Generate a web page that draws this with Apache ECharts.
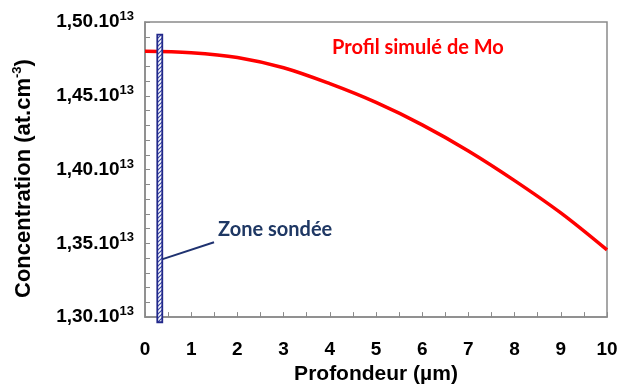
<!DOCTYPE html>
<html>
<head>
<meta charset="utf-8">
<script src="https://cdn.jsdelivr.net/npm/echarts@6/dist/echarts.min.js"></script>
<style>
  html, body { margin: 0; padding: 0; background: #fff; }
  #chart { width: 621px; height: 390px; }
</style>
</head>
<body>
<div id="chart"></div>
<script>
// Simulated Mo concentration profile (units of 1e13 at.cm-3) versus depth (µm)
const depth = [0, 1, 2, 3, 4, 5, 6, 7, 8, 9, 10];
const concentration = [1.4802, 1.4792, 1.4760, 1.4690, 1.4582, 1.4455, 1.4303, 1.4126, 1.3925, 1.3706, 1.3455];

// Probed zone: narrow band near the surface [xStart, xEnd, yBottom, yTop]
const probedZone = [0.266, 0.374, 1.2965, 1.4914];
// Leader line from the probed zone to its label
const leader = [[0.382, 1.3393], [1.494, 1.3507]];

const yTicks = [1.30, 1.35, 1.40, 1.45, 1.50];
const yTickLabels = ['1,30.10', '1,35.10', '1,40.10', '1,45.10', '1,50.10'];
const yExponent = '13';

const seriesName = 'Profil simulé de Mo';
const zoneName = 'Zone sondée';

const axisGrey = '#8a8a8a';
const navy = '#22288a';

// hatch pattern for the probed zone
function hatch() {
  const c = document.createElement('canvas');
  c.width = 4; c.height = 4;
  const g = c.getContext('2d');
  g.fillStyle = '#ffffff';
  g.fillRect(0, 0, 4, 4);
  g.strokeStyle = '#3a4aa8';
  g.lineWidth = 1.2;
  g.beginPath();
  g.moveTo(0, 4); g.lineTo(4, 0);
  g.moveTo(-1, 1); g.lineTo(1, -1);
  g.moveTo(3, 5); g.lineTo(5, 3);
  g.stroke();
  return c;
}
const pattern = hatch();

const chart = echarts.init(document.getElementById('chart'), null, { renderer: 'canvas' });

chart.setOption({
  animation: false,
  backgroundColor: '#ffffff',
  grid: {
    left: 145, right: 14, top: 22, bottom: 70,
    show: true, borderColor: axisGrey, borderWidth: 1.5, backgroundColor: 'transparent'
  },
  xAxis: {
    type: 'value', min: 0, max: 10, interval: 1,
    name: 'Profondeur (µm)', nameLocation: 'middle', nameGap: 46,
    nameTextStyle: { fontFamily: 'Liberation Sans', fontWeight: 'bold', fontSize: 21, color: '#000' },
    axisLine: { show: true, lineStyle: { color: axisGrey, width: 1.5 } },
    axisTick: { show: true, inside: true, length: 5, lineStyle: { color: axisGrey } },
    minorTick: { show: true, splitNumber: 2, length: 5, lineStyle: { color: axisGrey } },
    axisLabel: { margin: 23, fontFamily: 'Liberation Sans', fontWeight: 'bold', fontSize: 19, color: '#000' },
    splitLine: { show: false }
  },
  yAxis: {
    type: 'value', min: 1.30, max: 1.50, interval: 0.05,
    name: 'Concentration (at.cm{s|-3})', nameLocation: 'middle', nameGap: 108,
    nameTextStyle: {
      fontFamily: 'Liberation Sans', fontWeight: 'bold', fontSize: 22, color: '#000', lineHeight: 26,
      padding: [0, 18, 0, 0],
      rich: { s: { fontFamily: 'Liberation Sans', fontWeight: 'bold', fontSize: 13, color: '#000', verticalAlign: 'top', lineHeight: 13 } }
    },
    axisLine: { show: true, lineStyle: { color: axisGrey, width: 1.5 } },
    axisTick: { show: true, inside: true, length: 5, lineStyle: { color: axisGrey } },
    minorTick: { show: true, splitNumber: 5, length: 5, lineStyle: { color: axisGrey } },
    axisLabel: {
      margin: 11,
      formatter: function (v) {
        const i = yTicks.findIndex(t => Math.abs(t - v) < 1e-6);
        return '{b|' + yTickLabels[i] + '}{s|' + yExponent + '}';
      },
      rich: {
        b: { fontFamily: 'Liberation Sans', fontWeight: 'bold', fontSize: 19, color: '#000', lineHeight: 24 },
        s: { fontFamily: 'Liberation Sans', fontWeight: 'bold', fontSize: 13, color: '#000', lineHeight: 13, verticalAlign: 'top' }
      }
    },
    splitLine: { show: false }
  },
  series: [
    {
      name: seriesName,
      type: 'line',
      data: depth.map((d, i) => [d, concentration[i]]),
      smooth: 0.35,
      showSymbol: false,
      lineStyle: { color: '#ff0000', width: 3.5 },
      z: 3,
      markLine: {
        silent: true,
        symbol: ['none', 'none'],
        lineStyle: { color: '#1f3270', width: 2, type: 'solid' },
        label: { show: false },
        data: [[{ coord: leader[0] }, { coord: leader[1] }]]
      }
    },
    {
      name: zoneName,
      type: 'custom',
      clip: false,
      z: 4,
      data: [probedZone],
      renderItem: function (params, api) {
        const p0 = api.coord([api.value(0), api.value(3)]);
        const p1 = api.coord([api.value(1), api.value(2)]);
        return {
          type: 'rect',
          shape: { x: p0[0], y: p0[1], width: p1[0] - p0[0], height: p1[1] - p0[1] },
          style: { fill: { image: pattern, repeat: 'repeat' }, stroke: navy, lineWidth: 1.8 }
        };
      }
    }
  ],
  graphic: [
    {
      type: 'text', left: 332, top: 38,
      style: { text: seriesName, fill: '#ff0000', font: 'bold 20px Lato' }
    },
    {
      type: 'text', left: 218, top: 220,
      style: { text: zoneName, fill: '#1f3864', font: 'bold 20px Lato' }
    }
  ]
});
</script>
</body>
</html>
